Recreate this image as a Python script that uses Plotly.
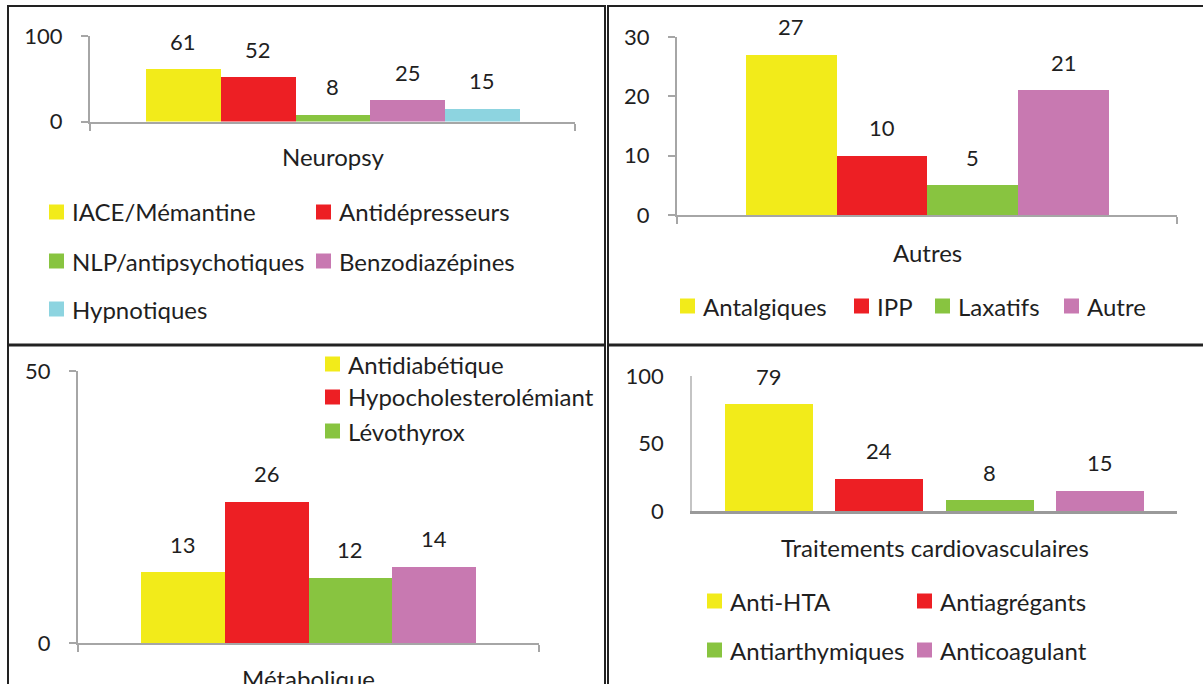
import plotly.graph_objects as go

W, H = 1203, 684
FONT = "Lato, 'Noto Sans', sans-serif"
INK = "#1f1f1f"
AXIS = "#a6a6a6"

YELLOW, RED, GREEN, PINK, CYAN = "#F2EB1A", "#ED1F24", "#88C440", "#C879B1", "#8DD4E0"

# --- data -------------------------------------------------------------
neuro_names = ["IACE/Mémantine", "Antidépresseurs", "NLP/antipsychotiques",
               "Benzodiazépines", "Hypnotiques"]
neuro_values = [61, 52, 8, 25, 15]
neuro_colors = [YELLOW, RED, GREEN, PINK, CYAN]

autres_names = ["Antalgiques", "IPP", "Laxatifs", "Autre"]
autres_values = [27, 10, 5, 21]
autres_colors = [YELLOW, RED, GREEN, PINK]

metab_names = ["Antidiabétique", "Hypocholesterolémiant", "Lévothyrox", "Autre"]
metab_values = [13, 26, 12, 14]
metab_colors = [YELLOW, RED, GREEN, PINK]

cardio_names = ["Anti-HTA", "Antiagrégants", "Antiarthymiques", "Anticoagulant"]
cardio_values = [79, 24, 8, 15]
cardio_colors = [YELLOW, RED, GREEN, PINK]


def fx(px):
    return px / W


def fy(py):
    return 1 - py / H


# Layout of each panel in pixels: axis box, value range, bar width,
# category title and a legend made of (column-x, row-y) slots.
panels = [
    dict(key="", names=neuro_names, values=neuro_values, colors=neuro_colors,
         xpx=(90, 575), ypx=(36, 121.5), yrange=[0, 100], yticks=[0, 100],
         xrange=[-1.25, 5.24], width=1.0, title="Neuropsy", title_y=157,
         legend=[(49, 212), (316, 212), (49, 261), (316, 261), (49, 309)],
         nlegend=5, axis_ticks=True),
    dict(key="2", names=autres_names, values=autres_values, colors=autres_colors,
         xpx=(677, 1177), ypx=(37, 215), yrange=[0, 30], yticks=[0, 10, 20, 30],
         xrange=[-1.26, 4.25], width=1.0, title="Autres", title_y=252,
         legend=[(680, 306), (854, 306), (935, 306), (1064, 306)],
         nlegend=4, axis_ticks=True),
    dict(key="3", names=metab_names, values=metab_values, colors=metab_colors,
         xpx=(78, 539), ypx=(371, 643), yrange=[0, 50], yticks=[0, 50],
         xrange=[-1.25, 4.25], width=1.0, title="Métabolique", title_y=678,
         # the legend box only has room for the first three entries
         legend=[(325, 364), (325, 397), (325, 431)],
         nlegend=3, axis_ticks=True),
    dict(key="4", names=cardio_names, values=cardio_values, colors=cardio_colors,
         xpx=(692, 1177), ypx=(376, 511), yrange=[0, 100], yticks=[0, 50, 100],
         xrange=[-0.70, 3.70], width=0.8, title="Traitements cardiovasculaires",
         title_y=547,
         legend=[(707, 601), (917, 601), (707, 650), (917, 650)],
         nlegend=4, axis_ticks=False),
]

fig = go.Figure()
annotations = []
shapes = []
SW = 15  # legend swatch size in px

for p in panels:
    k = p["key"]
    xref, yref = "x" + k, "y" + k
    for i, (name, v, c) in enumerate(zip(p["names"], p["values"], p["colors"])):
        fig.add_trace(go.Bar(x=[i], y=[v], width=p["width"], name=name,
                             marker=dict(color=c, line=dict(width=0)),
                             xaxis=xref, yaxis=yref, showlegend=False))
        annotations.append(dict(x=i, y=v, xref=xref, yref=yref, text=str(v),
                                showarrow=False, yanchor="middle", yshift=28,
                                font=dict(family=FONT, size=22, color=INK)))

    tick_kw = dict(ticks="outside", ticklen=7, tickwidth=2, tickcolor=AXIS) \
        if p["axis_ticks"] else dict(ticks="")
    fig.update_layout(**{
        "xaxis" + k: dict(domain=[fx(p["xpx"][0]), fx(p["xpx"][1])],
                          range=p["xrange"], anchor=yref,
                          showline=True, linecolor=AXIS if p["axis_ticks"] else "#9a9a9a",
                          linewidth=2 if p["axis_ticks"] else 2.5,
                          showgrid=False, zeroline=False,
                          tickvals=p["xrange"] if p["axis_ticks"] else [],
                          ticktext=["", ""] if p["axis_ticks"] else [],
                          showticklabels=False, automargin=False,
                          fixedrange=True, **tick_kw),
        "yaxis" + k: dict(domain=[fy(p["ypx"][1]), fy(p["ypx"][0])],
                          range=p["yrange"], anchor=xref,
                          showline=True,
                          linecolor=AXIS if p["axis_ticks"] else "#c4c4c4",
                          linewidth=2 if p["axis_ticks"] else 1.5,
                          showgrid=False, zeroline=False,
                          tickvals=p["yticks"],
                          ticklabelstandoff=14 if p["axis_ticks"] else 22,
                          tickfont=dict(family=FONT, size=22, color=INK),
                          automargin=False, fixedrange=True, **tick_kw),
    })

    # category name under the axis
    annotations.append(dict(x=0.5, xref=xref + " domain", y=fy(p["title_y"]),
                            yref="paper", text=p["title"], showarrow=False,
                            xanchor="center", yanchor="middle",
                            font=dict(family=FONT, size=24, color=INK)))

    # legend: coloured square followed by the series name
    for (lx, ly), name, c in list(zip(p["legend"], p["names"], p["colors"]))[:p["nlegend"]]:
        shapes.append(dict(type="rect", xref="paper", yref="paper",
                           x0=fx(lx), x1=fx(lx + SW), y0=fy(ly + SW / 2), y1=fy(ly - SW / 2),
                           fillcolor=c, line=dict(width=0)))
        annotations.append(dict(x=fx(lx + SW + 6), y=fy(ly), xref="paper", yref="paper",
                                text=name, showarrow=False, xanchor="left",
                                yanchor="middle",
                                font=dict(family=FONT, size=24, color=INK)))

# frames around the four charts
for x0, x1, y0, y1 in [(8, 605, 6, 344.5), (608, 1210, 6, 344.5),
                       (8, 605, 345.5, 700), (608, 1210, 345.5, 700)]:
    shapes.append(dict(type="rect", xref="paper", yref="paper",
                       x0=fx(x0), x1=fx(x1), y0=fy(y1), y1=fy(y0),
                       line=dict(color="#222222", width=2), fillcolor="rgba(0,0,0,0)",
                       layer="above"))

fig.update_layout(width=W, height=H,
                  margin=dict(l=0, r=0, t=0, b=0, pad=0, autoexpand=False),
                  paper_bgcolor="white", plot_bgcolor="white",
                  barmode="overlay", bargap=0, showlegend=False,
                  font=dict(family=FONT, color=INK),
                  annotations=annotations, shapes=shapes)

fig.write_html("out.html")
